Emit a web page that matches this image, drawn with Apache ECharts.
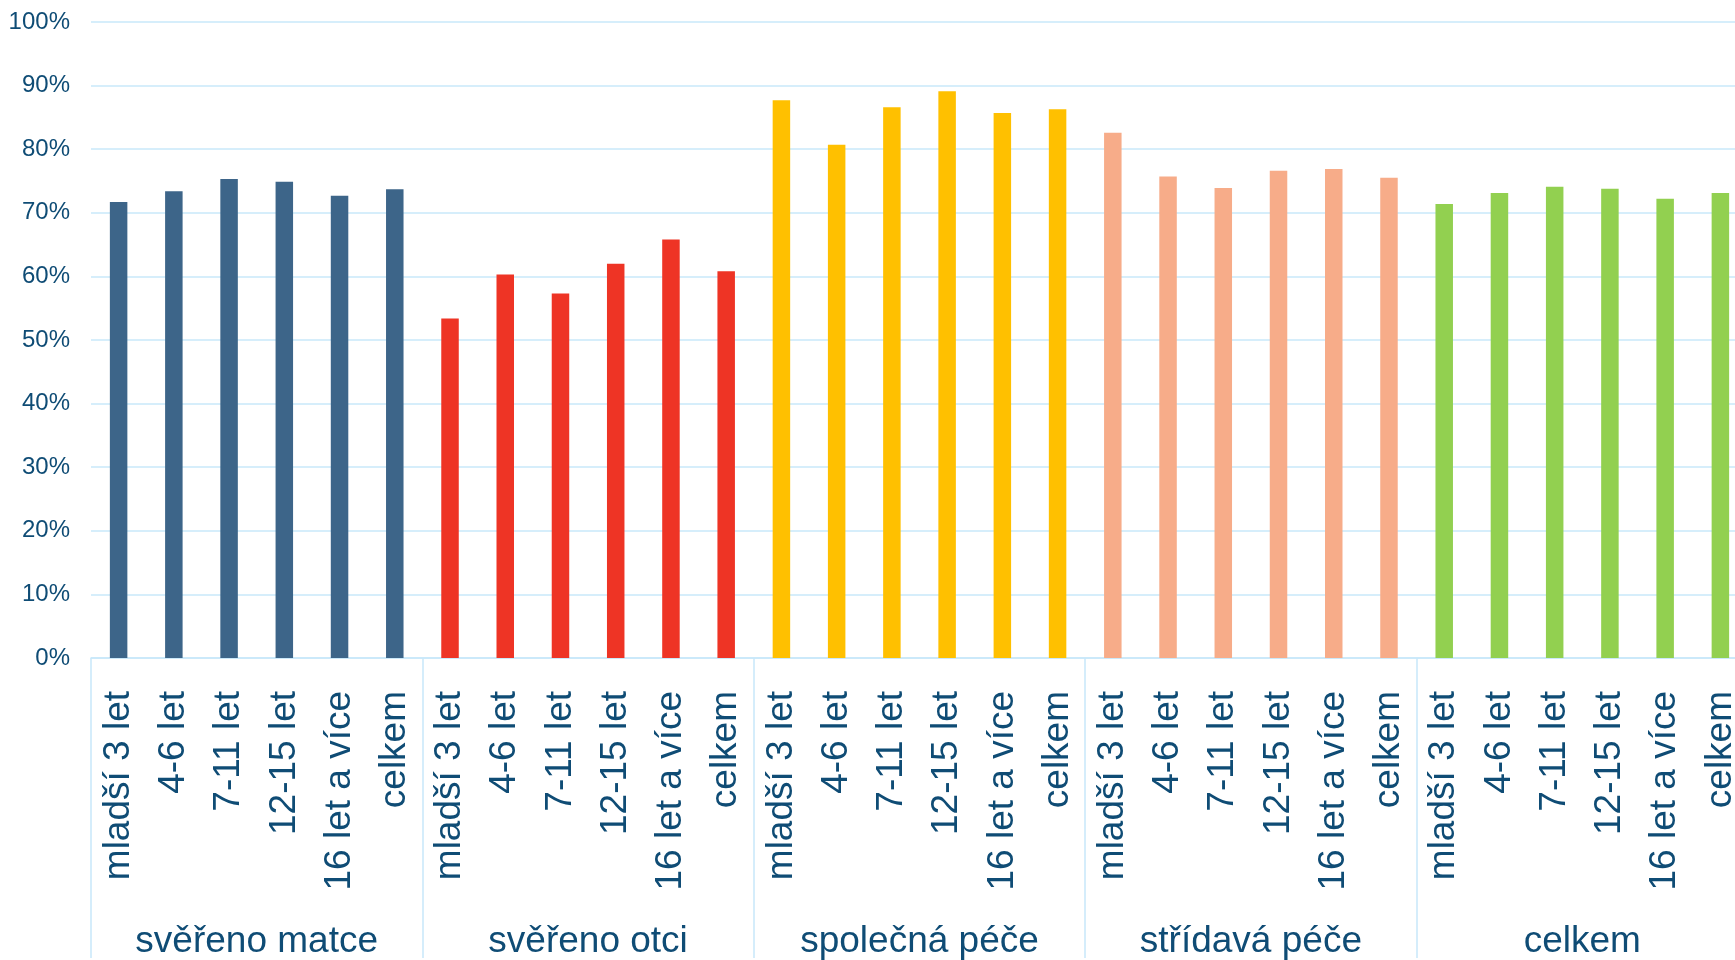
<!DOCTYPE html>
<html>
<head>
<meta charset="utf-8">
<script src="https://cdn.jsdelivr.net/npm/echarts@6/dist/echarts.min.js"></script>
<style>
html,body{margin:0;padding:0;background:#fff;overflow:hidden;width:1735px;height:960px;}
#chart{width:1748px;height:960px;}
</style>
</head>
<body>
<div id="chart"></div>
<script>
var groups = ['svěřeno matce', 'svěřeno otci', 'společná péče', 'střídavá péče', 'celkem'];
var ageLabels = ['mladší 3 let', '4-6 let', '7-11 let', '12-15 let', '16 let a více', 'celkem'];
var groupColors = ['#3D6589', '#EE3425', '#FFC000', '#F7AC89', '#92D050'];
var matce = [71.7, 73.4, 75.3, 74.9, 72.7, 73.7];
var otci = [53.4, 60.3, 57.3, 62.0, 65.8, 60.8];
var spolecna = [87.7, 80.7, 86.6, 89.1, 85.7, 86.3];
var stridava = [82.6, 75.7, 73.9, 76.6, 76.9, 75.5];
var celkem = [71.4, 73.1, 74.1, 73.8, 72.2, 73.1];
var yTicks = [0, 10, 20, 30, 40, 50, 60, 70, 80, 90, 100];

var groupValues = [matce, otci, spolecna, stridava, celkem];
var categories = [];
var barData = [];
groupValues.forEach(function (vals, gi) {
  vals.forEach(function (v, i) {
    categories.push(ageLabels[i]);
    barData.push({ value: v, itemStyle: { color: groupColors[gi] } });
  });
});

var textColor = '#0F4C75';
var lineColor = '#C8E8FA';
var font = 'Liberation Sans, Arial, sans-serif';

var chart = echarts.init(document.getElementById('chart'), null, { renderer: 'canvas' });
chart.setOption({
  animation: false,
  backgroundColor: '#ffffff',
  grid: { left: 91, top: 22, right: 0, bottom: 300, containLabel: false },
  xAxis: [
    {
      type: 'category',
      data: categories,
      position: 'bottom',
      axisLine: { show: true, lineStyle: { color: lineColor, width: 1.5 } },
      axisTick: { show: false },
      axisLabel: {
        interval: 0,
        rotate: 90,
        margin: 33,
        color: textColor,
        fontSize: 37,
        fontFamily: font
      }
    },
    {
      type: 'category',
      data: groups,
      position: 'bottom',
      axisLine: { show: false },
      axisTick: { show: true, length: 300, lineStyle: { color: lineColor, width: 1.5 } },
      axisLabel: {
        interval: 0,
        margin: 265,
        color: textColor,
        fontSize: 37,
        fontFamily: font
      }
    }
  ],
  yAxis: {
    type: 'value',
    min: yTicks[0],
    max: yTicks[yTicks.length - 1],
    interval: 10,
    axisLine: { show: false },
    axisTick: { show: false },
    splitLine: { show: true, lineStyle: { color: lineColor, width: 1.5 } },
    axisLabel: {
      margin: 21,
      color: textColor,
      fontSize: 24,
      fontFamily: font,
      formatter: function (v) { return v + '%'; }
    }
  },
  series: [
    {
      type: 'bar',
      xAxisIndex: 0,
      data: barData,
      barWidth: 17.5
    }
  ]
});
</script>
</body>
</html>
